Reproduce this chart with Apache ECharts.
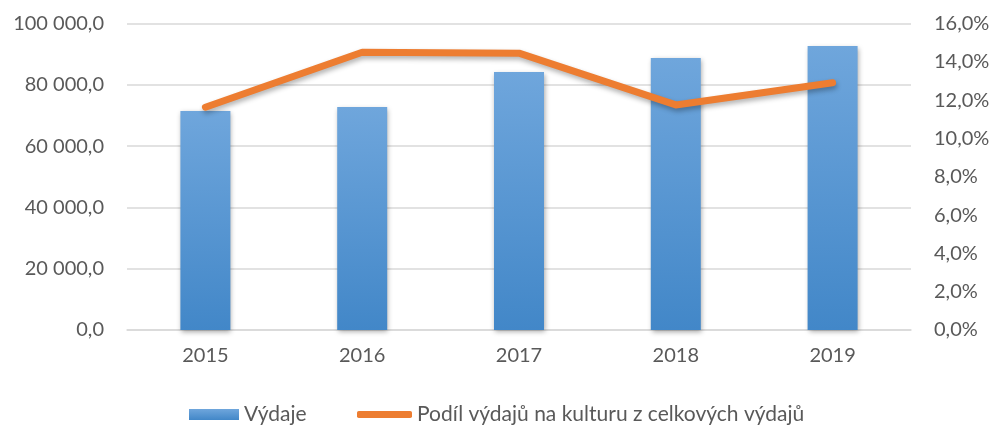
<!DOCTYPE html>
<html>
<head>
    <meta http-equiv="Content-Type" content="text/html; charset=UTF-8">
    <title>Výdaje na kulturu</title>
    <script type="text/javascript" src="https://cdn.jsdelivr.net/npm/echarts@6/dist/echarts.min.js"></script>
    <style>
        html, body { margin: 0; padding: 0; background: #fff; }
        #main { width: 996px; height: 426px; }
    </style>
</head>
<body>
<div id="main"></div>
<script type="text/javascript">
    // data
    var years = ['2015', '2016', '2017', '2018', '2019'];
    var vydaje = [71450, 72760, 84180, 88740, 92660];
    var podil = [11.63, 14.50, 14.45, 11.75, 12.91];
    var leftTicks = [0, 20000, 40000, 60000, 80000, 100000];
    var rightTicks = [0, 2, 4, 6, 8, 10, 12, 14, 16];

    var barName = 'Výdaje';
    var lineName = 'Podíl výdajů na kulturu z celkových výdajů';
    var fontName = 'Lato';
    var textColor = '#595959';

    function czNum(v) {
        var s = v.toFixed(1).split('.');
        return s[0].replace(/\B(?=(\d{3})+(?!\d))/g, ' ') + ',' + s[1];
    }

    var chart = echarts.init(document.getElementById('main'));
    chart.setOption({
        animation: false,
        textStyle: { fontFamily: fontName, color: textColor },
        grid: { left: 127, right: 85, top: 23.5, bottom: 96 },
        legend: [{
            left: 184, top: 399,
            data: [barName],
            icon: 'rect',
            itemWidth: 50, itemHeight: 11,
            textStyle: { fontFamily: fontName, fontSize: 21, color: textColor }
        }, {
            left: 352, top: 399,
            data: [lineName],
            icon: 'roundRect',
            itemWidth: 55, itemHeight: 7,
            textStyle: { fontFamily: fontName, fontSize: 21, color: textColor }
        }],
        xAxis: {
            type: 'category',
            data: years,
            axisTick: { show: false },
            axisLine: { lineStyle: { color: '#d9d9d9', width: 1.5 } },
            axisLabel: { fontSize: 20, color: textColor, margin: 16 }
        },
        yAxis: [{
            type: 'value',
            min: leftTicks[0], max: leftTicks[leftTicks.length - 1],
            interval: leftTicks[1] - leftTicks[0],
            axisLine: { show: false },
            axisTick: { show: false },
            splitLine: { lineStyle: { color: '#d9d9d9', width: 1.5 } },
            axisLabel: { fontSize: 20, color: textColor, margin: 23, formatter: czNum }
        }, {
            type: 'value',
            min: rightTicks[0], max: rightTicks[rightTicks.length - 1],
            interval: rightTicks[1] - rightTicks[0],
            axisLine: { show: false },
            axisTick: { show: false },
            splitLine: { show: false },
            axisLabel: {
                fontSize: 20, color: textColor, margin: 23,
                formatter: function (v) { return v.toFixed(1).replace('.', ',') + '%'; }
            }
        }],
        series: [{
            name: barName,
            type: 'bar',
            data: vydaje,
            barWidth: 50,
            itemStyle: {
                color: new echarts.graphic.LinearGradient(0, 0, 0, 1, [
                    { offset: 0, color: '#6fa6dc' },
                    { offset: 1, color: '#4287c8' }
                ]),
                shadowColor: 'rgba(0,0,0,0.35)',
                shadowBlur: 5,
                shadowOffsetX: 1,
                shadowOffsetY: 2
            }
        }, {
            name: lineName,
            type: 'line',
            yAxisIndex: 1,
            data: podil,
            symbol: 'none',
            lineStyle: {
                color: '#ed7d31',
                width: 7,
                cap: 'round',
                join: 'round',
                shadowColor: 'rgba(0,0,0,0.3)',
                shadowBlur: 5,
                shadowOffsetX: 1,
                shadowOffsetY: 3
            },
            itemStyle: { color: '#ed7d31' }
        }]
    });
</script>
</body>
</html>
